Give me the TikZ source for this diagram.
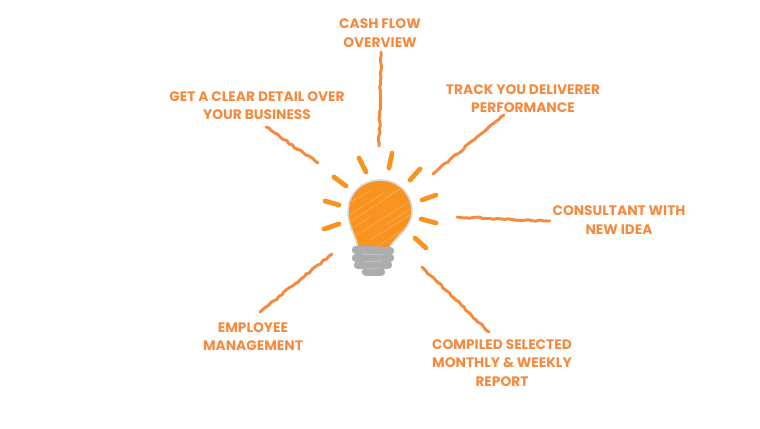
\documentclass[tikz,border=0pt]{standalone}
\usepackage{fontspec}
\setmainfont{Poppins}
\usetikzlibrary{decorations.pathmorphing}
\definecolor{LabelOrange}{HTML}{F58A3F}
\definecolor{BulbOrange}{HTML}{F7931E}
\definecolor{BulbLight}{HTML}{FAA94E}
\definecolor{BaseGray}{HTML}{ADADAD}
\definecolor{ThreadGray}{HTML}{C4C4C4}
\definecolor{RimGray}{HTML}{DCDCDC}
\tikzset{
  caption/.style={text=LabelOrange, font=\fontsize{9.8}{13.1}\selectfont\bfseries, align=center, inner sep=0pt},
  scribble/.style={draw=LabelOrange, line width=2.1pt, line cap=round, line join=round,
    decorate, decoration={random steps, segment length=2.5pt, amplitude=0.6pt}},
  ray/.style={draw=BulbOrange, line width=3.4pt, line cap=round},
  thread/.style={draw=BaseGray, line width=6pt, line cap=round},
  threadgap/.style={draw=ThreadGray, line width=0.6pt},
  hatch/.style={draw=BulbLight, line width=0.6pt}
}

\begin{document}
\begin{tikzpicture}[x=0.025cm, y=-0.025cm]
  \useasboundingbox (0,0) rectangle (760,428);
  \pgfmathsetseed{7}
  % captions
  \node[caption] (cash) at (380,33) {CASH FLOW\\OVERVIEW};
  \node[caption] (detail) at (257,105.5) {GET A CLEAR DETAIL OVER\\YOUR BUSINESS};
  \node[caption] (track) at (523,98.5) {TRACK YOU DELIVERER\\PERFORMANCE};
  \node[caption] (consultant) at (619,220) {CONSULTANT WITH\\NEW IDEA};
  \node[caption] (compiled) at (502,363) {COMPILED SELECTED\\MONTHLY \& WEEKLY\\REPORT};
  \node[caption] (employee) at (253,336.5) {EMPLOYEE\\MANAGEMENT};
  % scribbled lines
  \coordinate (cashA) at (381,52);
  \coordinate (cashB) at (379,146);
  \coordinate (detailA) at (266,127);
  \coordinate (detailB) at (318,163);
  \coordinate (trackA) at (504,115);
  \coordinate (trackB) at (433,174);
  \coordinate (consultantA) at (550,221);
  \coordinate (consultantB) at (457,217);
  \coordinate (compiledA) at (489,332);
  \coordinate (compiledB) at (422,267);
  \coordinate (employeeA) at (260,312);
  \coordinate (employeeB) at (332,254);
  \draw[scribble] (cashA) -- (cashB);
  \draw[scribble] (detailA) -- (detailB);
  \draw[scribble] (trackA) -- (trackB);
  \draw[scribble] (consultantA) -- (consultantB);
  \draw[scribble] (compiledA) -- (compiledB);
  \draw[scribble] (employeeA) -- (employeeB);
  % rays
  \draw[ray] (359,158) -- (366,172);
  \draw[ray] (392,153) -- (389,168);
  \draw[ray] (420,169) -- (410,180);
  \draw[ray] (436,195) -- (422,200);
  \draw[ray] (421,219) -- (436,223);
  \draw[ray] (415,238) -- (426,248);
  \draw[ray] (339,224) -- (324,229);
  \draw[ray] (325,201) -- (339,205);
  \draw[ray] (334,177) -- (346,186);
  % bulb
  \draw[fill=BulbOrange, draw=RimGray, line width=1.2pt]
    (358,247) .. controls (354,232) and (348,226) .. (348,212)
    .. controls (348,193) and (362,180) .. (380,180)
    .. controls (399,180) and (412,194) .. (412,212)
    .. controls (412,227) and (397,235) .. (388,250) -- cycle;
  \begin{scope}
    \clip (358,247) .. controls (354,232) and (348,226) .. (348,212)
    .. controls (348,193) and (362,180) .. (380,180)
    .. controls (399,180) and (412,194) .. (412,212)
    .. controls (412,227) and (397,235) .. (388,250) -- cycle;
    \draw[hatch] (345,205) -- (372,190);
    \draw[hatch] (348,216) -- (385,192);
    \draw[hatch] (350,222) -- (398,190);
    \draw[hatch] (350,230) -- (370,217);
    \draw[hatch] (352,238) -- (412,200);
    \draw[hatch] (385,225) -- (412,208);
    \draw[hatch] (370,240) -- (412,214);
    \draw[hatch] (375,248) -- (410,226);
    \draw[hatch] (385,198) -- (405,186);
  \end{scope}
  % screw base
  \draw[thread] (356,250) -- (390,251);
  \draw[thread] (356,258) -- (390,258);
  \draw[thread] (358,265) -- (388,265);
  \draw[thread] (366,272) -- (381,272);
  \draw[threadgap] (362,254) -- (384,255);
  \draw[threadgap] (364,262) -- (382,261);
  \draw[threadgap] (366,269) -- (380,268);
\end{tikzpicture}
\end{document}
